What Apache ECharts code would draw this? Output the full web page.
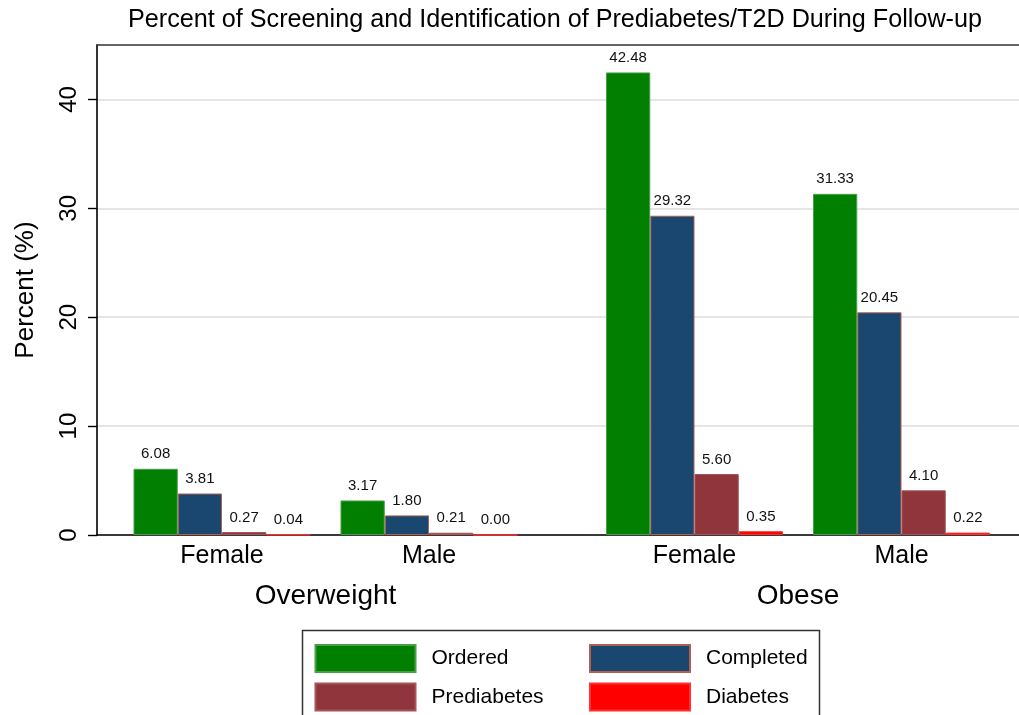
<!DOCTYPE html>
<html>
<head>
<meta charset="utf-8">
<script src="https://cdn.jsdelivr.net/npm/echarts@6/dist/echarts.min.js"></script>
<style>html,body{margin:0;padding:0;background:#fff;}#main{width:1019px;height:715px;}</style>
</head>
<body>
<div id="main"></div>
<script>
// ---- data ----
const titleText = 'Percent of Screening and Identification of Prediabetes/T2D During Follow-up';
const categories = ['Female', 'Male'];
const groups = ['Overweight', 'Obese'];
const seriesNames = ['Ordered', 'Completed', 'Prediabetes', 'Diabetes'];
// order: Overweight-Female, Overweight-Male, Obese-Female, Obese-Male
const ordered = [6.08, 3.17, 42.48, 31.33];
const completed = [3.81, 1.80, 29.32, 20.45];
const prediabetes = [0.27, 0.21, 5.60, 4.10];
const diabetes = [0.04, 0.00, 0.35, 0.22];
const yTicks = [0, 10, 20, 30, 40];
const yName = 'Percent (%)';

// ---- styles ----
const FONT = 'Liberation Sans, Helvetica, Arial, sans-serif';
const colors = ['#007f00', '#1a476f', '#90353b', '#ff0000'];
const borders = ['#4a9e4a', '#b0604e', '#a2555a', '#ff3030'];
const values = [ordered, completed, prediabetes, diabetes];
const Y_MAX = 45;

const chart = echarts.init(document.getElementById('main'), null, {renderer: 'canvas'});

const grids = [
  {left: 97, right: 0, top: 45, bottom: 180},
  {left: 118.5, width: 414, top: 45, bottom: 180},
  {left: 591, width: 414, top: 45, bottom: 180}
];

const xAxes = [
  {gridIndex: 0, type: 'value', min: 0, max: 1, position: 'bottom',
   axisLine: {show: true, onZero: false, lineStyle: {color: '#000', width: 1.6}},
   axisTick: {show: false}, axisLabel: {show: false}, splitLine: {show: false}},
  {gridIndex: 0, type: 'value', min: 0, max: 1, position: 'top',
   axisLine: {show: true, onZero: false, lineStyle: {color: '#333', width: 1.6}},
   axisTick: {show: false}, axisLabel: {show: false}, splitLine: {show: false}}
];
groups.forEach((g, i) => {
  xAxes.push({
    gridIndex: i + 1, type: 'category', data: categories,
    axisLine: {show: false}, axisTick: {show: false}, splitLine: {show: false},
    axisLabel: {color: '#000', fontSize: 25, fontFamily: FONT, margin: 9},
    name: g, nameLocation: 'middle', nameGap: 47,
    nameTextStyle: {color: '#000', fontSize: 28, fontFamily: FONT}
  });
});

const yAxes = [
  {gridIndex: 0, type: 'value', min: 0, max: Y_MAX, interval: 10,
   axisLine: {show: true, lineStyle: {color: '#000', width: 1.6}},
   axisTick: {show: true, length: 9, lineStyle: {color: '#000', width: 1.4}, customValues: yTicks},
   axisLabel: {rotate: 90, color: '#000', fontSize: 24, fontFamily: FONT, margin: 16,
     customValues: yTicks},
   splitLine: {show: true, lineStyle: {color: '#dcdcdc', width: 1.6}},
   name: yName, nameLocation: 'middle', nameGap: 58,
   nameTextStyle: {color: '#000', fontSize: 26, fontFamily: FONT}},
  {gridIndex: 1, type: 'value', min: 0, max: Y_MAX, show: false},
  {gridIndex: 2, type: 'value', min: 0, max: Y_MAX, show: false}
];

const series = [];
groups.forEach((g, gi) => {
  seriesNames.forEach((name, si) => {
    series.push({
      name: name, type: 'bar',
      xAxisIndex: gi + 2, yAxisIndex: gi + 1,
      data: values[si].slice(gi * 2, gi * 2 + 2),
      barWidth: 44.25, barGap: '0%',
      itemStyle: {color: colors[si], borderColor: borders[si], borderWidth: 1},
      label: {show: true, position: 'top', distance: 7, color: '#111', fontSize: 15, fontFamily: FONT,
        formatter: p => Number(p.value).toFixed(2)},
      emphasis: {disabled: true},
      animation: false
    });
  });
});

const legendPos = [
  {left: 314.5, top: 644}, {left: 589, top: 644},
  {left: 314.5, top: 682.5}, {left: 589, top: 682.5}
];
const legends = seriesNames.map((n, i) => ({
  data: [n], left: legendPos[i].left, top: legendPos[i].top, padding: 0,
  itemWidth: 100, itemHeight: 27, icon: 'rect', selectedMode: false,
  textStyle: {color: '#000', fontSize: 21, fontFamily: FONT, padding: [0, 0, 0, 11]}
}));

chart.setOption({
  backgroundColor: '#fff',
  animation: false,
  grid: grids,
  xAxis: xAxes,
  yAxis: yAxes,
  legend: legends,
  series: series,
  graphic: [
    {type: 'text', x: 555, y: 8, z: 10,
     style: {text: titleText, fontSize: 25.2, fontFamily: FONT, fill: '#000',
       align: 'center', textAlign: 'center', verticalAlign: 'top'}},
    {type: 'rect', z: 10, shape: {x: 302.5, y: 630.5, width: 517, height: 100},
     style: {fill: 'none', stroke: '#333', lineWidth: 1.5}}
  ]
});
</script>
</body>
</html>
